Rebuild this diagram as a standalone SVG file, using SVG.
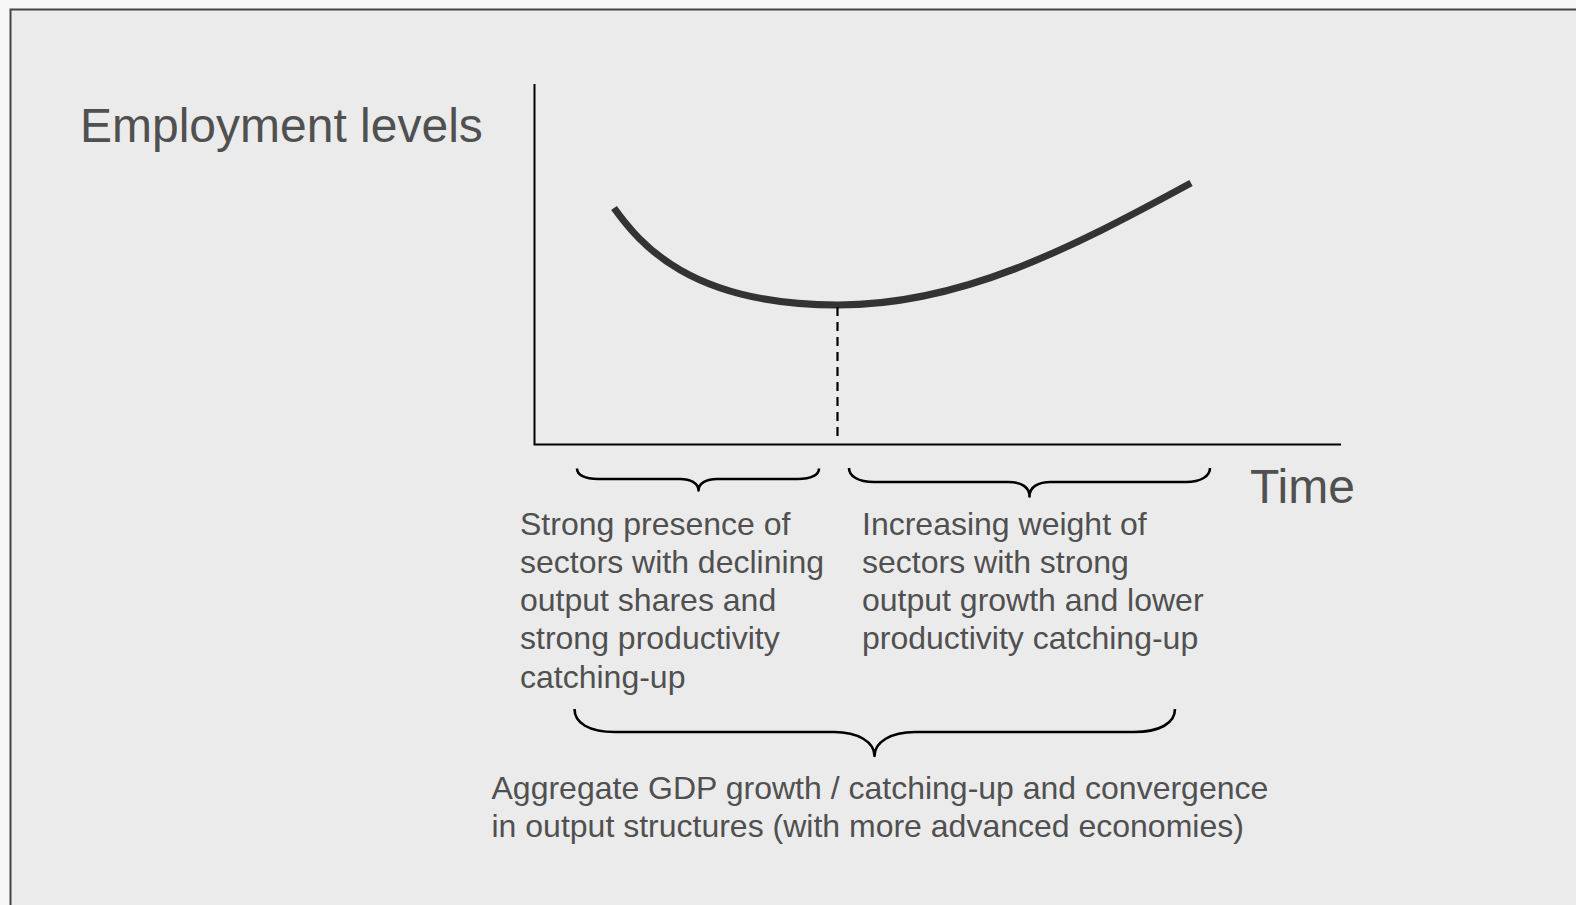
<svg xmlns="http://www.w3.org/2000/svg" width="1576" height="905" viewBox="0 0 1576 905">
<style>
.t{font-family:"Liberation Sans",Arial,sans-serif;fill:#505050}
.big{font-size:48px}
.body{font-size:32px}
.axis{stroke:#000;stroke-width:2;fill:none}
.brace{stroke:#000;stroke-width:2.6;fill:none;stroke-linejoin:round}
</style>
<rect x="0" y="0" width="1576" height="905" fill="#f7f7f7"/>
<rect x="10.5" y="9.5" width="1600" height="920" fill="#ebebeb" stroke="#444" stroke-width="2"/>
<g id="y-label"><text class="t big" x="80" y="141.5">Employment levels</text></g>
<g id="x-label"><text class="t big" x="1250" y="502.5">Time</text></g>
<g id="axes">
<path class="axis" d="M534.5,84 V444.5 H1341"/>
</g>
<g id="curve">
<path d="M614,208 C640,244 690,305 838,305 C960,305 1068,250 1191,183" fill="none" stroke="#333" stroke-width="7"/>
</g>
<g id="connectors">
<line x1="837.5" y1="307" x2="837.5" y2="440" stroke="#000" stroke-width="2.2" stroke-dasharray="9,6"/>
</g>
<g id="brace-left">
<path class="brace" d="M577,468.5 C577,475 585,479 598,479 L680,479 C690,479 698.5,483 698.5,490.5 C698.5,483 707,479 717,479 L798,479 C811,479 819,475 819,468.5"/>
</g>
<g id="brace-right">
<path class="brace" d="M849,468 C849,476 858,482 874,482 L1008,482 C1021,482 1029.5,487 1029.5,496.5 C1029.5,487 1038,482 1051,482 L1186,482 C1201,482 1210,476 1210,468"/>
</g>
<g id="brace-bottom">
<path class="brace" d="M574.5,709 C574.5,723 589,732 615,732 L834,732 C858,732 874.5,742 874.5,756 C874.5,742 891,732 915,732 L1134,732 C1160,732 1175,723 1175,709"/>
</g>
<g id="text-left">
<text class="t body" x="520" y="534.5">Strong presence of</text>
<text class="t body" x="520" y="572.8">sectors with declining</text>
<text class="t body" x="520" y="611.1">output shares and</text>
<text class="t body" x="520" y="649.4">strong productivity</text>
<text class="t body" x="520" y="687.7">catching-up</text>
</g>
<g id="text-right">
<text class="t body" x="862" y="534.5">Increasing weight of</text>
<text class="t body" x="862" y="572.8">sectors with strong</text>
<text class="t body" x="862" y="611.1">output growth and lower</text>
<text class="t body" x="862" y="649.4">productivity catching-up</text>
</g>
<g id="text-bottom">
<text class="t body" x="491.5" y="798.5">Aggregate GDP growth / catching-up and convergence</text>
<text class="t body" x="491.5" y="836.8">in output structures (with more advanced economies)</text>
</g>
</svg>
